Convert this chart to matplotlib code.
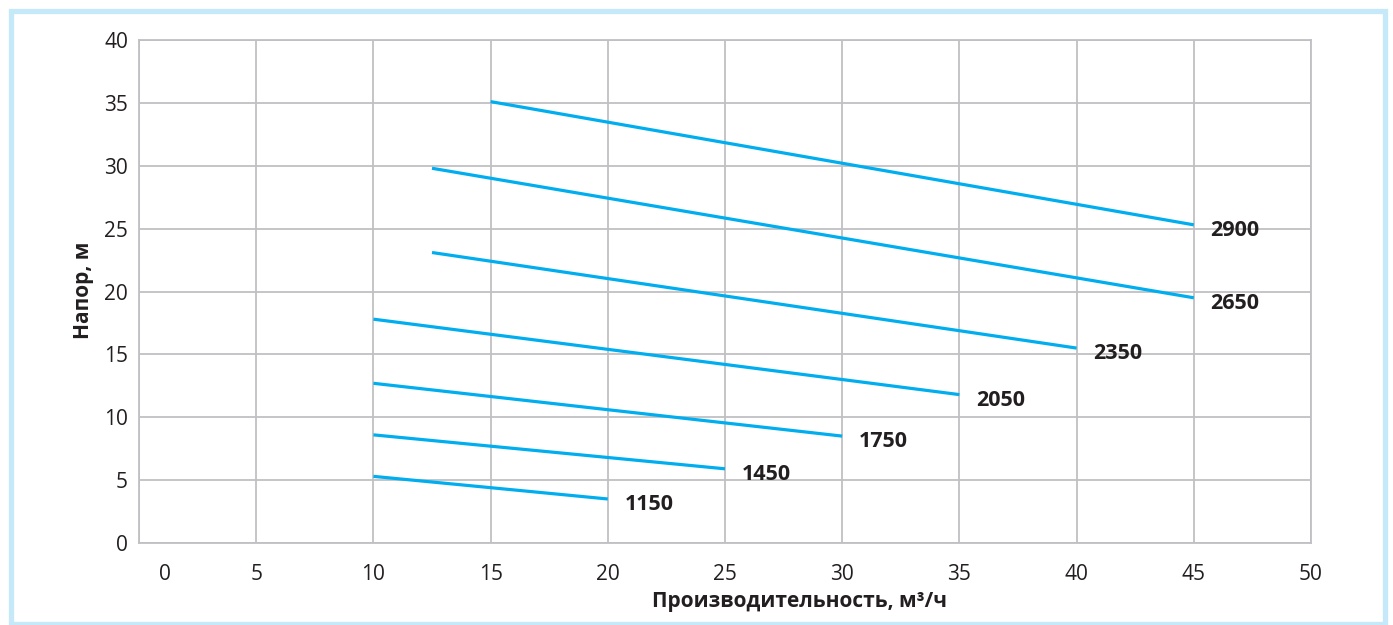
import matplotlib.pyplot as plt
import matplotlib.transforms as mtransforms
from matplotlib.patches import Rectangle

# === DATA ===
speeds = ['2900', '2650', '2350', '2050', '1750', '1450', '1150']
flow_start = [15, 12.5, 12.5, 10, 10, 10, 10]
flow_end = [45, 45, 40, 35, 30, 25, 20]
head_start = [35.1, 29.8, 23.1, 17.8, 12.7, 8.6, 5.3]
head_end = [25.3, 19.5, 15.5, 11.8, 8.5, 5.9, 3.5]

x_ticks = [0, 5, 10, 15, 20, 25, 30, 35, 40, 45, 50]
y_ticks = [0, 5, 10, 15, 20, 25, 30, 35, 40]

LINE_COLOR = '#00aeef'
TEXT_COLOR = '#231f20'
GRID_COLOR = '#c0c0c4'

plt.rcParams['font.family'] = ['Open Sans', 'DejaVu Sans']

fig = plt.figure(figsize=(13.93, 6.25), dpi=100)
ax = fig.add_axes([139 / 1393, 82 / 625, (1311 - 139) / 1393, (543 - 40) / 625])

for s, x0, x1, y0, y1 in zip(speeds, flow_start, flow_end, head_start, head_end):
    ax.plot([x0, x1], [y0, y1], color=LINE_COLOR, lw=2.3, solid_capstyle='butt', zorder=3)
    ax.annotate(s, xy=(x1, y1), xytext=(12, -4), textcoords='offset points',
                ha='left', va='center', fontsize=15.5, fontweight='bold', color=TEXT_COLOR)

ax.set_xlim(0, 50)
ax.set_ylim(0, 40)
ax.set_xticks(x_ticks)
ax.set_yticks(y_ticks)
ax.grid(True, color=GRID_COLOR, lw=1.3)
ax.set_axisbelow(True)
for sp in ax.spines.values():
    sp.set_color(GRID_COLOR)
    sp.set_linewidth(1.3)
ax.tick_params(axis='both', length=0, labelsize=15, labelcolor=TEXT_COLOR)
ax.tick_params(axis='x', pad=15)
ax.tick_params(axis='y', pad=8)

# the "0" label on the x axis sits a little to the right in the original
lbl0 = ax.get_xticklabels()[0]
lbl0.set_transform(lbl0.get_transform() + mtransforms.ScaledTranslation(26 / 100, 0, fig.dpi_scale_trans))

# axis titles
fig.text(799 / 1393, 1 - 602 / 625, 'Производительность, м³/ч', ha='center', va='center',
         fontsize=15, fontweight='bold', color=TEXT_COLOR)
fig.text(83 / 1393, 1 - 290 / 625, 'Напор, м', ha='center', va='center', rotation=90,
         fontsize=15, fontweight='bold', color=TEXT_COLOR)

# light blue frame around the picture
fig.patches.append(Rectangle((10.5 / 1393, 1 / 625), (1385 - 10.5) / 1393, (614.5 - 1) / 625,
                             transform=fig.transFigure, fill=False, ec='#c6e9f9', lw=3.8))

fig.savefig('out.png', dpi=100)
